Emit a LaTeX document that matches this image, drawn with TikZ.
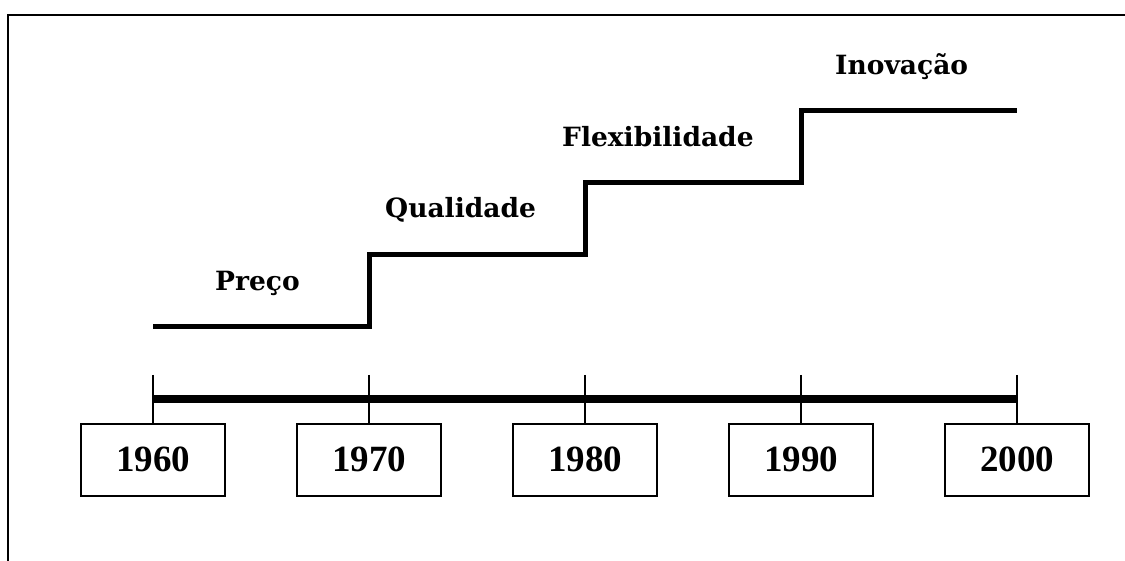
\documentclass[tikz,border=0pt]{standalone}
\usepackage{fontspec}
\setmainfont{Liberation Serif}
\newfontfamily\labelfont{DejaVu Serif}
\begin{document}
\begin{tikzpicture}[x=1pt,y=-1pt,
  yearbox/.style={draw,line width=2pt,minimum width=144pt,minimum height=72pt,
    inner sep=0pt,font=\fontsize{37}{40}\selectfont\bfseries},
  phase/.style={anchor=base west,inner sep=0pt,
    font=\labelfont\fontsize{26.5}{30}\selectfont\bfseries},
  tickline/.style={line width=1.3pt},
  axisline/.style={line width=8pt},
  stair/.style={line width=5pt,line join=miter}]
\useasboundingbox (0,0) rectangle (1125,561);
% frame
\draw[line width=2.5pt] (1125,15) -- (8,15) -- (8,561);

% decade boxes
\foreach \yr/\x in {1960/153,1970/369,1980/585,1990/801,2000/1017}{
  \node[yearbox] (b\yr) at (\x,459.5) {\yr};
  \coordinate (t\yr) at (\x,375);
  \draw[tickline] (t\yr) -- (b\yr.north);
}
% time axis
\draw[axisline] (153,399) coordinate (a0) -- (1017,399) coordinate (a1);

% staircase of priorities
\coordinate (s0) at (153,327);
\coordinate (s1) at (369,327);
\coordinate (s2) at (369,255);
\coordinate (s3) at (585,255);
\coordinate (s4) at (585,183);
\coordinate (s5) at (801,183);
\coordinate (s6) at (801,111);
\coordinate (s7) at (1017,111);
\draw[stair] (s0) -- (s1) -- (s2) -- (s3) -- (s4) -- (s5) -- (s6) -- (s7);

% labels
\node[phase] (preco) at (215,291) {Preço};
\node[phase] (qual) at (385,218) {Qualidade};
\node[phase] (flex) at (562,147) {Flexibilidade};
\node[phase] (inov) at (835,75) {Inovação};
\end{tikzpicture}
\end{document}
